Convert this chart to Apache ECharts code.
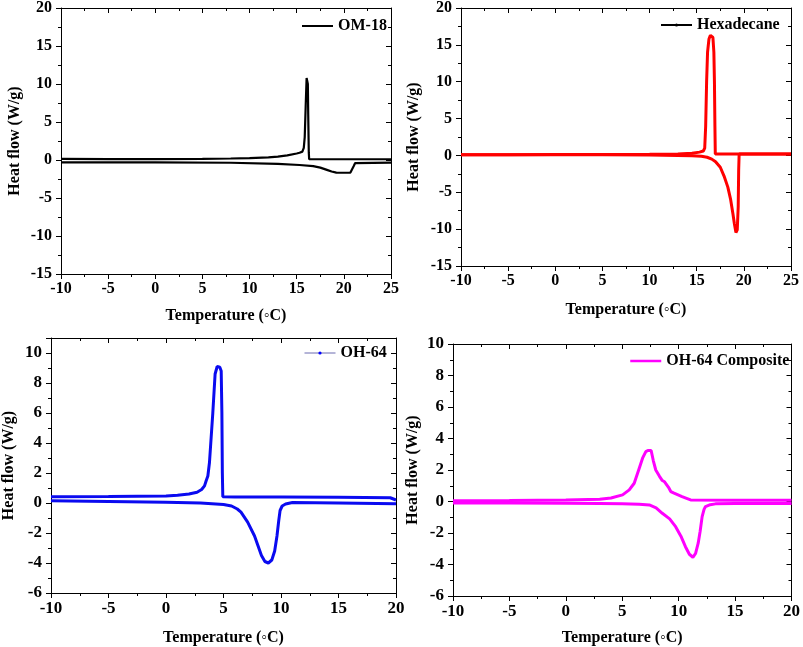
<!DOCTYPE html>
<html>
<head>
<meta charset="utf-8">
<script src="https://cdn.jsdelivr.net/npm/echarts@6/dist/echarts.min.js"></script>
<style>html,body{margin:0;padding:0;background:#fff;}#c{width:803px;height:647px;}</style>
</head>
<body>
<div id="c"></div>
<script>
// ---- Panel 1: OM-18 ----
var om18CoolX = [-10, -5, 0, 5, 8, 10, 12, 13, 14, 15, 15.3, 15.6, 15.75, 15.85, 15.95, 16.05, 16.1, 16.18, 16.22, 16.28, 16.32, 18, 20, 25];
var om18CoolY = [0.15, 0.12, 0.12, 0.15, 0.2, 0.25, 0.35, 0.45, 0.6, 0.85, 0.95, 1.1, 1.6, 3, 7, 10.8, 11.0, 10, 6, 1, 0.1, 0.1, 0.1, 0.1];
var om18HeatX = [-10, 0, 8, 13, 15.3, 16.75, 17.5, 18.2, 18.7, 19.2, 20, 20.7, 20.9, 21.05, 21.2, 21.4, 25];
var om18HeatY = [-0.3, -0.32, -0.36, -0.5, -0.66, -0.8, -1.0, -1.3, -1.52, -1.67, -1.68, -1.65, -1.4, -0.8, -0.4, -0.35, -0.35];

// ---- Panel 2: Hexadecane ----
var hexCoolX = [-10, -5, 0, 5, 10, 13, 14.5, 15.3, 15.7, 15.85, 15.95, 16.05, 16.15, 16.3, 16.45, 16.58, 16.72, 16.82, 16.88, 16.93, 16.97, 20, 25];
var hexCoolY = [0.1, 0.1, 0.12, 0.13, 0.15, 0.2, 0.3, 0.45, 0.6, 1.0, 4, 10, 14, 15.8, 16.3, 16.35, 16, 14, 10, 4, 0.2, 0.2, 0.2];
var hexHeatX = [-10, -5, 0, 5, 10, 13, 14.5, 15.5, 16.1, 16.6, 17.0, 17.5, 17.9, 18.3, 18.6, 18.84, 19.0, 19.16, 19.3, 19.4, 19.45, 19.5, 20, 25];
var hexHeatY = [0.1, 0.1, 0.1, 0.08, 0.05, 0, -0.05, -0.12, -0.25, -0.5, -0.85, -1.6, -2.8, -4.3, -6, -7.9, -9.3, -10.45, -10.1, -7, -2, 0.2, 0.2, 0.2];

// ---- Panel 3: OH-64 ----
var oh64CoolX = [-10, -5, 0, 1, 2, 2.7, 3.1, 3.35, 3.5, 3.64, 3.78, 4.07, 4.27, 4.45, 4.56, 4.68, 4.8, 4.86, 4.9, 4.94, 6, 10, 15, 19.5, 20];
var oh64CoolY = [0.42, 0.43, 0.47, 0.52, 0.6, 0.72, 0.9, 1.14, 1.5, 1.8, 2.7, 6.0, 8.6, 9.1, 9.2, 9.05, 8.8, 6, 2, 0.42, 0.4, 0.4, 0.38, 0.35, 0.2];
var oh64HeatX = [-10, -5, 0, 3, 5, 5.7, 6.2, 6.52, 7.1, 7.7, 8.0, 8.3, 8.6, 8.9, 9.2, 9.45, 9.65, 9.8, 9.92, 10.1, 10.4, 11, 15, 20];
var oh64HeatY = [0.15, 0.1, 0.05, 0, -0.1, -0.2, -0.4, -0.61, -1.27, -2.2, -2.85, -3.5, -3.9, -4.0, -3.8, -3.2, -2.2, -1.2, -0.5, -0.2, -0.07, 0.03, 0.0, -0.05];

// ---- Panel 4: OH-64 Composite ----
var compCoolX = [-10, -5, 0, 3, 4, 5.03, 5.62, 6.06, 6.5, 6.8, 7.09, 7.27, 7.56, 7.75, 7.97, 8.3, 8.55, 8.75, 8.9, 9.1, 9.3, 9.59, 10.3, 10.7, 11.06, 15, 20];
var compCoolY = [0.05, 0.07, 0.1, 0.15, 0.22, 0.42, 0.74, 1.16, 2.1, 2.75, 3.17, 3.24, 3.24, 2.6, 2.0, 1.6, 1.33, 1.25, 1.2, 0.9, 0.63, 0.53, 0.31, 0.2, 0.1, 0.08, 0.08];
var compHeatX = [-10, -5, 0, 3, 5, 6.5, 7.4, 8, 8.55, 9.2, 9.73, 10.2, 10.6, 10.95, 11.26, 11.5, 11.73, 11.9, 12.08, 12.25, 12.38, 12.8, 13.26, 15, 20];
var compHeatY = [-0.1, -0.1, -0.11, -0.12, -0.14, -0.18, -0.22, -0.4, -0.75, -1.1, -1.6, -2.2, -2.87, -3.35, -3.54, -3.3, -2.65, -1.9, -0.96, -0.5, -0.32, -0.2, -0.15, -0.12, -0.12];

var seriesNames = ['OM-18', 'Hexadecane', 'OH-64', 'OH-64 Composite'];
var xTitle = 'Temperature (\u25E6C)';
var yTitle = 'Heat flow (W/g)';

function pairs(xs, ys) { return xs.map(function (x, i) { return [x, ys[i]]; }); }

var FONT = 'Liberation Serif';
function txt(size) { return { fontFamily: FONT, fontWeight: 'bold', fontSize: size, color: '#000' }; }

var panels = [
  { grid: {left: 61, top: 8, width: 330, height: 266}, xr: [-10, 25], yr: [-15, 20], yi: 5, color: '#000000', lw: 2.2, fs: 16,
    cool: pairs(om18CoolX, om18CoolY), heat: pairs(om18HeatX, om18HeatY), xGap: 34, yGap: 38,
    leg: {left: 301, top: 18, ih: 2, lineStyle: {width: 2}} },
  { grid: {left: 461, top: 7, width: 330, height: 259}, xr: [-10, 25], yr: [-15, 20], yi: 5, color: '#ff0000', lw: 3, fs: 16,
    cool: pairs(hexCoolX, hexCoolY), heat: pairs(hexHeatX, hexHeatY), xGap: 36, yGap: 39,
    leg: {left: 660, top: 17, ih: 4, lineStyle: {width: 2, color: '#000'}, itemStyle: {color: '#000'}} },
  { grid: {left: 49, top: 338, width: 347, height: 257}, xr: [-10, 20], yr: [-6, 11], yi: 2, color: '#0a0af0', lw: 3, fs: 17,
    cool: pairs(oh64CoolX, oh64CoolY), heat: pairs(oh64HeatX, oh64HeatY), xGap: 37, yGap: 34,
    leg: {left: 304, top: 345, ih: 4, lineStyle: {width: 1, color: '#6a6ab0'}, itemStyle: {color: '#0000ff'}} },
  { grid: {left: 453, top: 344, width: 340, height: 252}, xr: [-10, 20], yr: [-6, 10], yi: 2, color: '#ff00ff', lw: 3, fs: 17,
    cool: pairs(compCoolX, compCoolY), heat: pairs(compHeatX, compHeatY), xGap: 34, yGap: 32,
    leg: {left: 629, top: 353, ih: 2, lineStyle: {width: 2.5}} }
];

var grids = [], xAxes = [], yAxes = [], series = [], legends = [];
panels.forEach(function (p, i) {
  grids.push(p.grid);
  var lineCol = '#000';
  var yTop = p.yr[0] + Math.floor((p.yr[1] - p.yr[0]) / p.yi) * p.yi;
  var fmtY = function (v) { return v > yTop + 1e-9 ? '' : String(v); };
  var aLine = {show: true, onZero: false, lineStyle: {color: lineCol, width: 1}};
  xAxes.push({
    type: 'value', gridIndex: i, position: 'bottom', min: p.xr[0], max: p.xr[1], interval: 5,
    axisLine: aLine,
    axisTick: {show: true, inside: false, length: 5, lineStyle: {color: lineCol}},
    minorTick: {show: true, splitNumber: 2, length: 3, lineStyle: {color: lineCol}},
    splitLine: {show: false}, minorSplitLine: {show: false},
    axisLabel: Object.assign({margin: 7}, txt(p.fs)),
    name: xTitle, nameLocation: 'middle', nameGap: p.xGap, nameTextStyle: txt(16)
  });
  xAxes.push({
    type: 'value', gridIndex: i, position: 'top', min: p.xr[0], max: p.xr[1], interval: 5,
    axisLine: aLine,
    axisTick: {show: true, inside: true, length: 5, lineStyle: {color: lineCol}},
    minorTick: {show: true, splitNumber: 2, length: 3, lineStyle: {color: lineCol}},
    splitLine: {show: false}, axisLabel: {show: false}
  });
  yAxes.push({
    type: 'value', gridIndex: i, position: 'left', min: p.yr[0], max: p.yr[1], interval: p.yi,
    axisLine: aLine,
    axisTick: {show: true, inside: false, length: 5, lineStyle: {color: lineCol}},
    minorTick: {show: true, splitNumber: 2, length: 3, lineStyle: {color: lineCol}},
    splitLine: {show: false}, minorSplitLine: {show: false},
    axisLabel: Object.assign({margin: 9, formatter: fmtY}, txt(p.fs)),
    name: yTitle, nameLocation: 'middle', nameGap: p.yGap, nameRotate: 90, nameTextStyle: txt(16)
  });
  yAxes.push({
    type: 'value', gridIndex: i, position: 'right', min: p.yr[0], max: p.yr[1], interval: p.yi,
    axisLine: aLine,
    axisTick: {show: true, inside: true, length: 5, lineStyle: {color: lineCol}},
    minorTick: {show: true, splitNumber: 2, length: 3, lineStyle: {color: lineCol}},
    splitLine: {show: false}, axisLabel: {show: false}
  });
  [p.cool, p.heat].forEach(function (d) {
    series.push({
      type: 'line', name: seriesNames[i], xAxisIndex: 2 * i, yAxisIndex: 2 * i, data: d,
      showSymbol: false, symbol: 'circle', smooth: false, silent: true, animation: false,
      lineStyle: {color: p.color, width: p.lw}, itemStyle: {color: p.color}
    });
  });
  var item = {name: seriesNames[i]};
  if (p.leg.lineStyle) item.lineStyle = p.leg.lineStyle;
  if (p.leg.itemStyle) item.itemStyle = p.leg.itemStyle;
  legends.push({
    left: p.leg.left, top: p.leg.top, orient: 'horizontal', itemWidth: 31, itemHeight: p.leg.ih,
    selectedMode: false, padding: 0, data: [item], textStyle: txt(16)
  });
});

var chart = echarts.init(document.getElementById('c'), null, {renderer: 'canvas'});
chart.setOption({
  backgroundColor: '#fff', animation: false,
  grid: grids, xAxis: xAxes, yAxis: yAxes, series: series, legend: legends
});
</script>
</body>
</html>
